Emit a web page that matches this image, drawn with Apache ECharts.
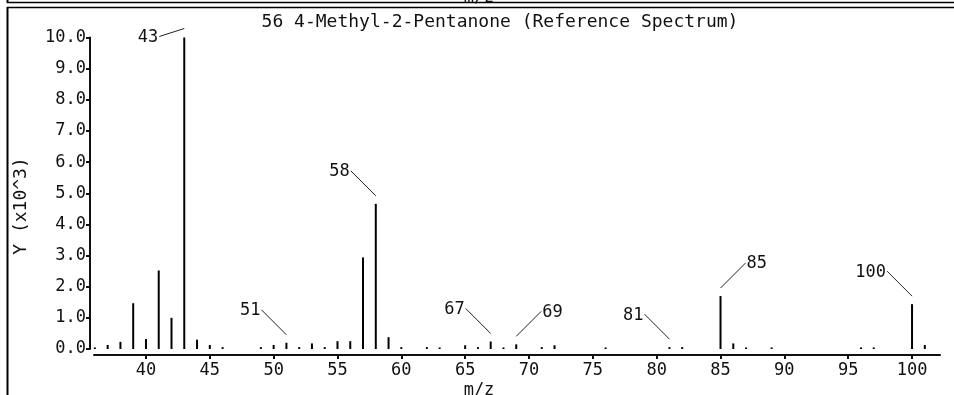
<!DOCTYPE html>
<html>
<head>
<meta charset="utf-8">
<style>
  html, body { margin: 0; padding: 0; background: #fff; }
  #chart { width: 954px; height: 395px; }
</style>
<script src="https://cdn.jsdelivr.net/npm/echarts@6/dist/echarts.min.js"></script>
</head>
<body>
<div id="chart"></div>
<script>
// ---- data (intensity in units of 10^3) ----
var mzValues = [36, 37, 38, 39, 40, 41, 42, 43, 44, 45, 46, 49, 50, 51, 52, 53, 54, 55, 56, 57, 58, 59, 60,
                62, 63, 65, 66, 67, 68, 69, 71, 72, 76, 81, 82, 85, 86, 87, 89, 96, 97, 100, 101];
var intensities = [0.05, 0.13, 0.23, 1.47, 0.32, 2.52, 1.0, 10.0, 0.3, 0.13, 0.06, 0.06, 0.13, 0.2, 0.06, 0.18, 0.06, 0.25, 0.25, 2.94, 4.66, 0.38, 0.06,
                   0.06, 0.05, 0.12, 0.06, 0.24, 0.05, 0.15, 0.06, 0.12, 0.05, 0.06, 0.06, 1.7, 0.18, 0.05, 0.05, 0.05, 0.05, 1.44, 0.13];
var labeledPeaks = [43, 51, 58, 67, 69, 81, 85, 100];
var labelSides = ['L', 'L', 'L', 'L', 'R', 'L', 'R', 'L'];
var xTickValues = [40, 45, 50, 55, 60, 65, 70, 75, 80, 85, 90, 95, 100];
var yTickValues = [0, 1, 2, 3, 4, 5, 6, 7, 8, 9, 10];
var titleText = '56 4-Methyl-2-Pentanone (Reference Spectrum)';
var xAxisTitle = 'm/z';
var yAxisTitle = 'Y (x10^3)';

var FONT = '"DejaVu Sans Mono", monospace';
var INK = '#111';

var barData = mzValues.map(function (m, i) { return [m, intensities[i]]; });
var annotData = labeledPeaks.map(function (m, i) {
  return [m, intensities[mzValues.indexOf(m)], i];
});

var chart = echarts.init(document.getElementById('chart'), null, { renderer: 'canvas' });

var option = {
  animation: false,
  backgroundColor: '#fff',
  grid: { left: 94, right: 14, top: 37.5, bottom: 46, containLabel: false },
  xAxis: {
    type: 'value',
    min: 35.93,
    max: 102.19,
    offset: 6,
    axisLine: { show: true, onZero: false, lineStyle: { color: INK, width: 2 } },
    axisTick: { show: true, customValues: xTickValues, length: 4, inside: false, lineStyle: { color: INK, width: 2 } },
    axisLabel: { customValues: xTickValues, color: INK, fontFamily: FONT, fontSize: 17, margin: 7 },
    splitLine: { show: false }
  },
  yAxis: {
    type: 'value',
    min: 0,
    max: 10,
    offset: 4,
    axisLine: { show: true, onZero: false, lineStyle: { color: INK, width: 2 } },
    axisTick: { show: true, customValues: yTickValues, length: 4, lineStyle: { color: INK, width: 2 } },
    axisLabel: {
      customValues: yTickValues, color: INK, fontFamily: FONT, fontSize: 17, margin: 4,
      formatter: function (v) { return v.toFixed(1); }
    },
    splitLine: { show: false }
  },
  series: [
    {
      type: 'bar',
      data: barData,
      barWidth: 2,
      itemStyle: { color: '#000' },
      silent: true
    },
    {
      type: 'custom',
      data: annotData,
      clip: false,
      silent: true,
      renderItem: function (params, api) {
        var p = api.coord([api.value(0), api.value(1)]);
        var side = labelSides[api.value(2)];
        var px = p[0], top = p[1];
        var dir = side === 'L' ? -1 : 1;
        var sx = px + dir * 25, sy = top - 33, ey = top - 8;
        if (sy < 30) { sy = top - 1; ey = top - 9; }
        return {
          type: 'group',
          children: [
            { type: 'line', shape: { x1: sx, y1: sy, x2: px, y2: ey }, style: { stroke: '#222', lineWidth: 1 } },
            { type: 'text', style: {
                x: sx + (side === 'L' ? -1 : 1), y: sy + 1,
                text: String(api.value(0)),
                align: side === 'L' ? 'right' : 'left', verticalAlign: 'middle',
                fill: INK, font: '17px ' + FONT } }
          ]
        };
      }
    }
  ],
  graphic: [
    { type: 'line', shape: { x1: 7, y1: 2.5, x2: 954, y2: 2.5 }, style: { stroke: '#000', lineWidth: 1.5 } },
    { type: 'line', shape: { x1: 7, y1: 7.5, x2: 954, y2: 7.5 }, style: { stroke: '#000', lineWidth: 1.5 } },
    { type: 'line', shape: { x1: 7.5, y1: 0, x2: 7.5, y2: 3 }, style: { stroke: '#000', lineWidth: 2 } },
    { type: 'line', shape: { x1: 7.5, y1: 7, x2: 7.5, y2: 395 }, style: { stroke: '#000', lineWidth: 2 } },
    { type: 'text', style: { x: 479, y: -11, text: xAxisTitle, align: 'center', verticalAlign: 'top', fill: INK, font: '17px ' + FONT } },
    { type: 'text', style: { x: 500, y: 22, text: titleText, align: 'center', verticalAlign: 'middle', fill: INK, font: '18px ' + FONT } },
    { type: 'text', style: { x: 479, y: 382, text: xAxisTitle, align: 'center', verticalAlign: 'top', fill: INK, font: '17px ' + FONT } },
    { type: 'text', x: 21, y: 206, rotation: Math.PI / 2,
      style: { x: 0, y: 0, text: yAxisTitle, align: 'center', verticalAlign: 'middle', fill: INK, font: '18px ' + FONT } }
  ]
};
chart.setOption(option);
</script>
</body>
</html>
